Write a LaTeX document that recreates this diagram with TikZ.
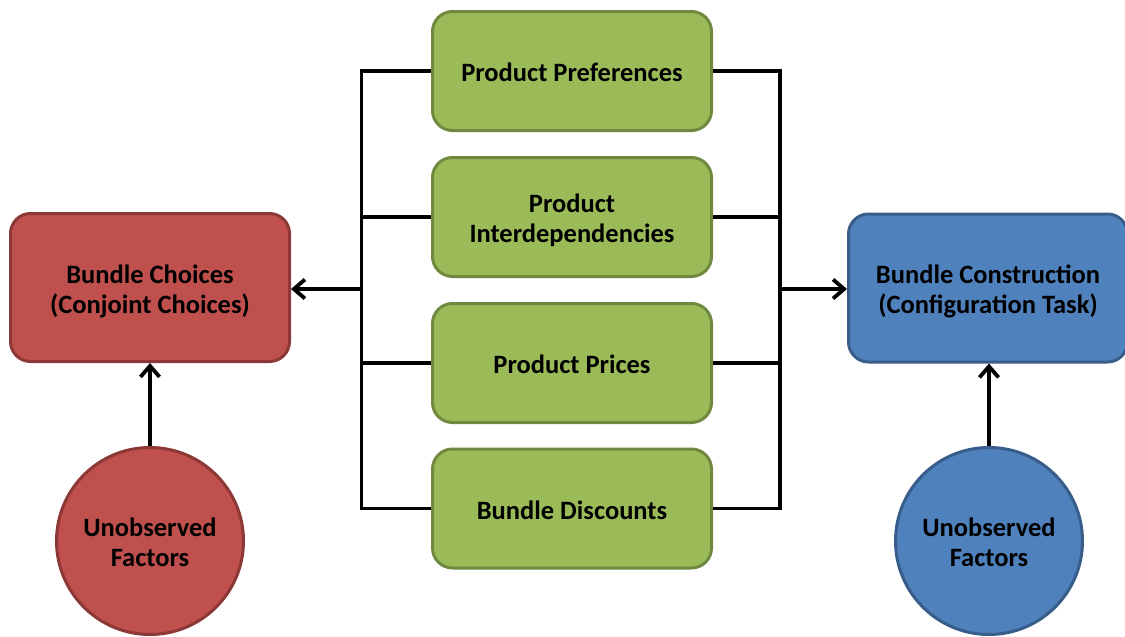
\documentclass[tikz,border=0pt]{standalone}
\usepackage{fontspec}
\setmainfont{Carlito}
\usetikzlibrary{arrows.meta}
\definecolor{redfill}{HTML}{C0504D}
\definecolor{redline}{HTML}{8C3836}
\definecolor{greenfill}{HTML}{9BBB59}
\definecolor{greenline}{HTML}{71893F}
\definecolor{bluefill}{HTML}{4F81BD}
\definecolor{blueline}{HTML}{385D8A}
\newcommand{\boxtext}[1]{\raisebox{-4.5pt}[\height][\depth]{\setlength{\tabcolsep}{0pt}\begin{tabular}{c}#1\end{tabular}}}
\tikzset{
  box/.style={rectangle, rounded corners=20pt, line width=3pt, minimum width=279pt,
    font=\fontsize{26.5}{30}\selectfont\bfseries, text=black, inner sep=0pt},
  greenbox/.style={box, fill=greenfill, draw=greenline, minimum height=119pt},
  redbox/.style={box, fill=redfill, draw=redline, minimum height=148pt},
  bluebox/.style={box, fill=bluefill, draw=blueline, minimum height=148pt},
  circ/.style={circle, line width=3pt, minimum size=187pt, inner sep=0pt,
    font=\fontsize{26.5}{30}\selectfont\bfseries, text=black},
  wire/.style={line width=3.8pt, black},
  arr/.style={wire, -{Straight Barb[length=11pt,width=19pt,line width=3.8pt]}}
}
\begin{document}
\begin{tikzpicture}[x=1pt,y=-1pt]
\useasboundingbox (0,0) rectangle (1125,637);
\node[greenbox] (g1) at (572,71) {\boxtext{Product Preferences}};
\node[greenbox] (g2) at (572,217) {\boxtext{Product\\Interdependencies}};
\node[greenbox] (g3) at (572,363) {\boxtext{Product Prices}};
\node[greenbox] (g4) at (572,508.5) {\boxtext{Bundle Discounts}};
\node[redbox] (red) at (150,287.5) {\boxtext{Bundle Choices\\(Conjoint Choices)}};
\node[bluebox] (blue) at (988,288) {\boxtext{Bundle Construction\\(Configuration Task)}};
\node[circ, fill=redfill, draw=redline] (rc) at (150,541) {\boxtext{Unobserved\\Factors}};
\node[circ, fill=bluefill, draw=blueline] (bc) at (989,541) {\boxtext{Unobserved\\Factors}};
\coordinate (lt) at (361.5,71);
\coordinate (lb) at (361.5,508.5);
\coordinate (lm) at (361.5,289);
\coordinate (rt) at (780,71);
\coordinate (rb) at (780,508.5);
\coordinate (rm) at (780,289);
\draw[wire] (g1.west) -- (lt) -- (lb) -- (g4.west);
\draw[wire] (g2.west) -- (g2.west -| lt);
\draw[wire] (g3.west) -- (g3.west -| lt);
\draw[wire] (g1.east) -- (rt) -- (rb) -- (g4.east);
\draw[wire] (g2.east) -- (g2.east -| rt);
\draw[wire] (g3.east) -- (g3.east -| rt);
\draw[arr] (lm) -- (lm -| red.east);
\draw[arr] (rm) -- (rm -| blue.west);
\draw[arr] (rc.north) -- (red.south);
\draw[arr] (bc.north) -- (bc.north |- blue.south);
\end{tikzpicture}
\end{document}
